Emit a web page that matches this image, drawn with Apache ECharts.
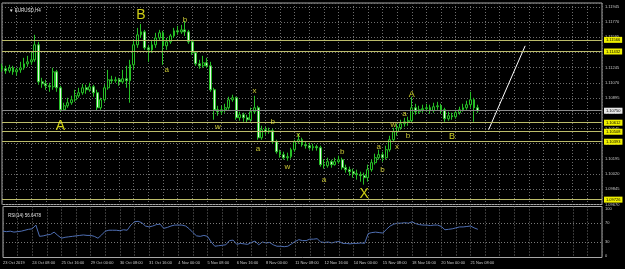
<!DOCTYPE html>
<html><head><meta charset="utf-8">
<script src="https://cdn.jsdelivr.net/npm/echarts@6/dist/echarts.min.js"></script>
<style>html,body{margin:0;padding:0;background:#000;}#c{width:625px;height:269px;}</style>
</head><body><div id="c"></div>
<script>
// ---- data ----
const timeLabels = ['23 Oct 2019','24 Oct 08:00','25 Oct 16:00','29 Oct 00:00','30 Oct 08:00','31 Oct 16:00','4 Nov 00:00','5 Nov 08:00','6 Nov 16:00','8 Nov 00:00','11 Nov 08:00','12 Nov 16:00','14 Nov 00:00','15 Nov 08:00','18 Nov 16:00','20 Nov 00:00','21 Nov 08:00'];
const totalSlots = 165;
const opens = [1.11256,1.11233,1.11210,1.11244,1.11198,1.11221,1.11244,1.11290,1.11313,1.11336,
1.11509,1.11083,1.11060,1.11037,1.11026,1.11198,1.11014,1.10761,1.10807,1.10842,
1.10876,1.10922,1.10957,1.11014,1.10991,1.11026,1.10957,1.10784,1.10876,1.11014,
1.11106,1.11095,1.11106,1.11083,1.11118,1.11095,1.11279,1.11509,1.11624,1.11658,
1.11474,1.11451,1.11509,1.11589,1.11647,1.11497,1.11543,1.11612,1.11670,1.11658,
1.11681,1.11658,1.11543,1.11417,1.11290,1.11267,1.11302,1.11267,1.10991,1.10761,
1.10738,1.10761,1.10784,1.10876,1.10899,1.10669,1.10704,1.10669,1.10646,1.10738,
1.10784,1.10439,1.10531,1.10508,1.10520,1.10393,1.10278,1.10244,1.10209,1.10221,
1.10301,1.10393,1.10416,1.10359,1.10347,1.10324,1.10336,1.10324,1.10129,1.10117,
1.10163,1.10129,1.10163,1.10186,1.10094,1.10071,1.10048,1.10025,1.10014,1.10002,
1.09979,1.10071,1.10152,1.10209,1.10244,1.10209,1.10301,1.10416,1.10508,1.10554,
1.10600,1.10623,1.10635,1.10784,1.10738,1.10761,1.10773,1.10784,1.10750,1.10796,
1.10807,1.10761,1.10658,1.10692,1.10681,1.10727,1.10761,1.10784,1.10819,1.10876,1.10784];
const closes = [1.11233,1.11210,1.11244,1.11198,1.11221,1.11244,1.11290,1.11313,1.11336,1.11509,
1.11083,1.11060,1.11037,1.11026,1.11198,1.11014,1.10761,1.10807,1.10842,1.10876,
1.10922,1.10957,1.11014,1.10991,1.11026,1.10957,1.10784,1.10876,1.11014,1.11106,
1.11095,1.11106,1.11083,1.11118,1.11095,1.11279,1.11509,1.11624,1.11658,1.11474,
1.11451,1.11509,1.11589,1.11647,1.11497,1.11543,1.11612,1.11670,1.11658,1.11681,
1.11658,1.11543,1.11417,1.11290,1.11267,1.11302,1.11267,1.10991,1.10761,1.10738,
1.10761,1.10784,1.10876,1.10899,1.10669,1.10704,1.10669,1.10646,1.10738,1.10784,
1.10439,1.10531,1.10508,1.10520,1.10393,1.10278,1.10244,1.10209,1.10221,1.10301,
1.10393,1.10416,1.10359,1.10347,1.10324,1.10336,1.10324,1.10129,1.10117,1.10163,
1.10129,1.10163,1.10186,1.10094,1.10071,1.10048,1.10025,1.10014,1.10002,1.09979,
1.10071,1.10152,1.10209,1.10244,1.10209,1.10301,1.10416,1.10508,1.10554,1.10600,
1.10623,1.10635,1.10784,1.10738,1.10761,1.10773,1.10784,1.10750,1.10796,1.10807,
1.10761,1.10658,1.10692,1.10681,1.10727,1.10761,1.10784,1.10819,1.10876,1.10784,1.10750];
const highs = [1.11290,1.11267,1.11279,1.11267,1.11244,1.11313,1.11359,1.11382,1.11428,1.11624,
1.11543,1.11129,1.11106,1.11072,1.11244,1.11221,1.11037,1.10842,1.10899,1.10922,
1.10991,1.11014,1.11060,1.11049,1.11072,1.11049,1.10991,1.10899,1.11049,1.11221,
1.11152,1.11141,1.11129,1.11221,1.11267,1.11336,1.11566,1.11704,1.11750,1.11681,
1.11509,1.11566,1.11647,1.11681,1.11670,1.11589,1.11635,1.11704,1.11727,1.11739,
1.11785,1.11681,1.11566,1.11428,1.11336,1.11382,1.11359,1.11313,1.11014,1.10807,
1.10807,1.10830,1.10911,1.10934,1.10911,1.10738,1.10727,1.10704,1.10784,1.10922,
1.10807,1.10577,1.10566,1.10554,1.10543,1.10416,1.10301,1.10278,1.10267,1.10324,
1.10416,1.10485,1.10439,1.10393,1.10382,1.10370,1.10359,1.10347,1.10186,1.10209,
1.10186,1.10209,1.10232,1.10209,1.10129,1.10106,1.10083,1.10071,1.10048,1.10037,
1.10129,1.10186,1.10255,1.10301,1.10278,1.10347,1.10462,1.10554,1.10600,1.10646,
1.10669,1.10681,1.10911,1.10830,1.10807,1.10819,1.10830,1.10819,1.10842,1.10853,
1.10830,1.10784,1.10738,1.10727,1.10761,1.10796,1.10830,1.10865,1.10968,1.10899,1.10819];
const lows = [1.11198,1.11175,1.11187,1.11164,1.11152,1.11187,1.11221,1.11256,1.11279,1.11313,
1.11049,1.11014,1.10991,1.10968,1.10991,1.10968,1.10738,1.10750,1.10784,1.10819,
1.10853,1.10899,1.10934,1.10945,1.10968,1.10911,1.10750,1.10761,1.10853,1.10991,
1.11060,1.11072,1.11037,1.11060,1.11014,1.10842,1.11221,1.11474,1.11589,1.11451,
1.11313,1.11417,1.11474,1.11566,1.11279,1.11451,1.11520,1.11589,1.11624,1.11635,
1.11612,1.11520,1.11394,1.11267,1.11233,1.11244,1.11244,1.10968,1.10646,1.10692,
1.10704,1.10727,1.10761,1.10853,1.10646,1.10635,1.10623,1.10612,1.10623,1.10715,
1.10416,1.10416,1.10474,1.10485,1.10370,1.10255,1.10209,1.10186,1.10175,1.10198,
1.10278,1.10370,1.10336,1.10313,1.10301,1.10290,1.10290,1.10106,1.10083,1.10094,
1.10094,1.10117,1.10140,1.10071,1.10037,1.10002,1.09979,1.09956,1.09933,1.09899,
1.09933,1.10048,1.10129,1.10186,1.10163,1.10186,1.10278,1.10393,1.10462,1.10531,
1.10566,1.10577,1.10612,1.10704,1.10715,1.10727,1.10738,1.10715,1.10727,1.10761,
1.10715,1.10623,1.10635,1.10646,1.10658,1.10704,1.10738,1.10761,1.10784,1.10623,1.10727];
const rsi = [53,52,53,51,52,53,55,57,58,66,
42,43,45,46,51,44,38,40,41,42,
43,44,45,44,44,42,38,45,53,55,
55,55,54,56,55,66,73,74,71,64,
62,64,67,68,59,61,64,66,66,66,
64,58,50,43,42,44,42,30,21,22,
23,24,33,34,25,27,26,25,29,32,
24,30,28,29,24,21,21,20,21,26,
31,35,33,33,36,36,37,30,29,30,
28,30,31,27,27,26,27,27,28,27,
48,50,51,50,49,57,64,68,70,70,
71,70,73,69,67,66,66,65,66,66,
63,56,57,58,60,62,62,63,64,60,57];
const levels = [1.11566, 1.11432, 1.10612, 1.10508, 1.10393, 1.09726];
const bidPrice = 1.10750;
const priceTicks = ['1.09670','1.09845','1.10020','1.10195','1.10370','1.10545','1.10720','1.10895','1.11070','1.11245','1.11420','1.11595','1.11770','1.11945'];
const rsiLevels = [30, 70];
const rsiBounds = [0, 100];
const trendLine = [[133, 1.10531], [143, 1.11497]];
const bigMarks = [[16, 1.10577, 'A'], [38, 1.11853, 'B'], [99, 1.09784, 'X']];
const midMarks = [[112, 1.10934, 'A'], [123, 1.10451, 'B']];
const smallMarks = [[50,1.11796,'b'],[45,1.11221,'a'],[59,1.10566,'w'],[69,1.10980,'x'],[70,1.10313,'a'],[74,1.10623,'b'],[78,1.10106,'w'],[81,1.10474,'x'],[88,1.09956,'a'],[93,1.10278,'b'],[103,1.10336,'a'],[104,1.10071,'b'],[107,1.10589,'w'],[108,1.10336,'x'],[110,1.10715,'a'],[111,1.10462,'b']];

// ---- axis config ----
const gridBase = 1.09670, gridStep = 0.00175, paneUnits = 13.26;
const categories = Array.from({length: totalSlots}, (_, i) => (i % 8 === 0 && i / 8 < timeLabels.length) ? timeLabels[i / 8] : '');
const candles = opens.map((o, i) => [o, closes[i], lows[i], highs[i]]);
const FONT = 'Liberation Sans';
const gridLine = {color: '#6e6e6e', type: [1, 2], width: 1};

const xAx = (gi, labels) => ({
  type: 'category', gridIndex: gi, data: categories, boundaryGap: false,
  axisLine: {show: false}, axisTick: {show: false},
  axisLabel: labels ? {show: true, interval: (i) => i % 8 === 0, color: '#c8c8c8', fontSize: 4, fontFamily: FONT, align: 'left', margin: 3} : {show: false},
  splitLine: {show: true, interval: (i) => i % 4 === 0, lineStyle: gridLine}
});

const markSeries = (arr, size, color) => ({
  type: 'scatter', xAxisIndex: 0, yAxisIndex: 0, symbolSize: 1, itemStyle: {color: 'rgba(0,0,0,0)'}, silent: true, z: 5,
  data: arr.map(d => ({value: [d[0], d[1]], name: d[2]})),
  label: {show: true, position: 'inside', formatter: p => p.name, color: color, fontSize: size, fontFamily: FONT}
});

const option = {
  backgroundColor: '#000000',
  animation: false,
  title: [
    {text: '\u25BC EURUSD,H4', left: 4, top: 3, textStyle: {color: '#e0e0e0', fontSize: 4.5, fontWeight: 'normal', fontFamily: FONT}},
    {text: 'RSI(14) 56.6478', left: 3, top: 208, textStyle: {color: '#e0e0e0', fontSize: 4.5, fontWeight: 'normal', fontFamily: FONT}}
  ],
  grid: [
    {left: 2, right: 23, top: 3, height: 201.5, show: true, borderColor: '#a8a8a8', borderWidth: 1},
    {left: 2, right: 23, top: 206.5, height: 51, show: true, borderColor: '#a8a8a8', borderWidth: 1}
  ],
  xAxis: [xAx(0, false), xAx(1, true)],
  yAxis: [
    {gridIndex: 0, type: 'value', position: 'left', min: gridBase, max: gridBase + paneUnits * gridStep, show: false},
    {gridIndex: 0, type: 'value', position: 'right', min: 0, max: paneUnits, interval: 1,
      axisLine: {show: false}, axisTick: {show: false},
      axisLabel: {color: '#c8c8c8', fontSize: 4, fontFamily: FONT, margin: 3, showMaxLabel: false,
        formatter: v => { const k = Math.round(v); return Math.abs(v - k) < 1e-6 && priceTicks[k] ? priceTicks[k] : ''; }},
      splitLine: {show: true, lineStyle: gridLine}},
    {gridIndex: 1, type: 'value', position: 'right', min: -3, max: 105.5, show: false}
  ],
  series: [
    {
      type: 'candlestick', xAxisIndex: 0, yAxisIndex: 0, data: candles, barWidth: 2.4,
      itemStyle: {color: '#000000', color0: '#e6f5e6', borderColor: '#26c026', borderColor0: '#26c026', borderWidth: 1},
      markLine: {
        silent: true, symbol: ['none', 'none'], animation: false, precision: 5,
        lineStyle: {color: '#bcbc6a', width: 1, type: 'solid'},
        label: {show: true, position: 'end', distance: 2, formatter: p => Number(p.value).toFixed(5),
          backgroundColor: '#f0f000', color: '#000', fontSize: 4, fontFamily: FONT, padding: [1, 2]},
        data: levels.map(v => ({yAxis: v})).concat([
          {yAxis: bidPrice, lineStyle: {color: '#8a8a8a'}, label: {backgroundColor: '#e8e8e8'}}
        ])
      }
    },
    {
      type: 'line', xAxisIndex: 0, yAxisIndex: 0, data: trendLine, symbol: 'none', silent: true,
      lineStyle: {color: '#ffffff', width: 1}
    },
    markSeries(bigMarks, 14, '#ffff1a'),
    markSeries(midMarks, 9, '#ffff30'),
    markSeries(smallMarks, 8, '#f4f040'),
    {
      type: 'line', xAxisIndex: 1, yAxisIndex: 2, data: rsi, symbol: 'none', silent: true,
      lineStyle: {color: '#4f6fb4', width: 1},
      markLine: {
        silent: true, symbol: ['none', 'none'], animation: false,
        label: {show: true, position: 'end', distance: 3, formatter: p => String(Math.round(p.value)), color: '#c8c8c8', fontSize: 4, fontFamily: FONT},
        data: rsiLevels.map(v => ({yAxis: v, lineStyle: {color: '#7a7a7a', type: [1, 2], width: 1}}))
          .concat(rsiBounds.map(v => ({yAxis: v, lineStyle: {color: 'rgba(0,0,0,0)'}})))
      }
    }
  ]
};
const chart = echarts.init(document.getElementById('c'), null, {renderer: 'canvas'});
chart.setOption(option);
</script></body></html>
